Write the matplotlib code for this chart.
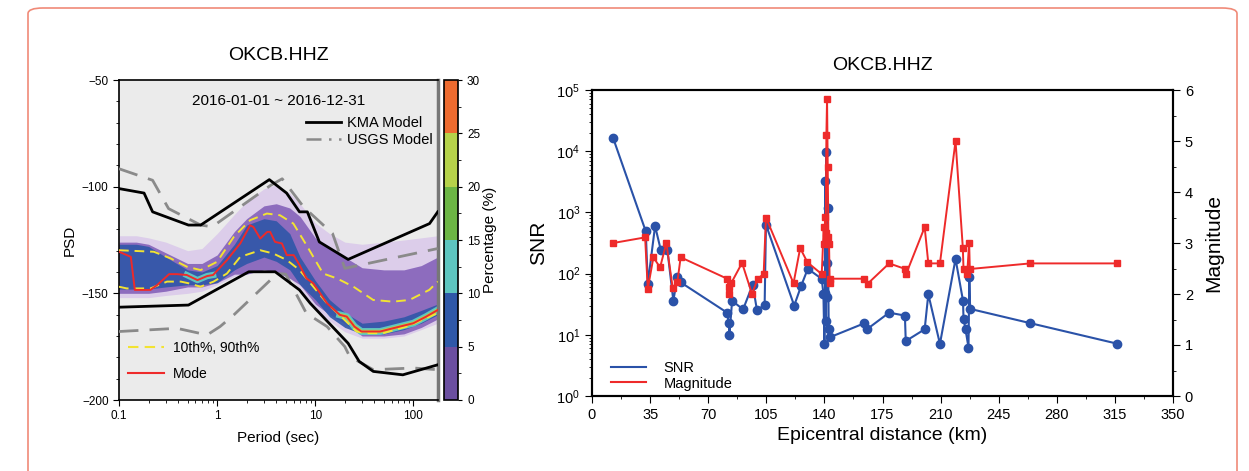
"""
Station OKCB.HHZ: PPSD summary (left) and SNR / magnitude vs distance (right).
"""
import matplotlib
matplotlib.use("Agg")
import matplotlib.pyplot as plt
from matplotlib.colors import ListedColormap, BoundaryNorm
from matplotlib.cm import ScalarMappable
from matplotlib.lines import Line2D
from matplotlib.patches import FancyBboxPatch
from matplotlib.ticker import MultipleLocator, LogLocator, NullFormatter, FixedLocator

plt.rcParams["font.family"] = ["Liberation Sans", "DejaVu Sans"]

# --- PSD panel data (period in s, PSD in dB) ------------------------------
kma_hi_period = [0.1, 0.18, 0.22, 0.51, 0.68, 3.4, 5.1, 6.9, 8.3, 11, 21.6, 146, 177]
kma_hi_psd = [-100.9, -103, -111.8, -118, -118, -96.7, -103, -111.8, -111.8, -125.9, -134.1, -117.3, -111.8]
kma_lo_period = [0.1, 0.51, 2.1, 3.9, 6.9, 8.9, 21.6, 28, 39, 78, 177]
kma_lo_psd = [-156.5, -155.5, -139.9, -139.9, -148.4, -154.7, -173.4, -181.9, -186.6, -188.2, -183.5]

usgs_hi_period = [0.1, 0.22, 0.32, 0.68, 0.89, 3.5, 4.6, 7.6, 15, 20, 177]
usgs_hi_psd = [-91.6, -97, -110.3, -118, -118.8, -99.4, -96.3, -109.5, -122, -138.3, -129]
usgs_lo_period = [0.1, 0.39, 0.79, 1.07, 1.48, 4.1, 5.0, 8.1, 13.2, 20, 22.4, 39, 100, 177]
usgs_lo_psd = [-167.9, -166.4, -169.5, -165.6, -160.1, -140.7, -141, -159.3, -165.6, -175, -179.6, -185.8, -185, -185.8]

mode_period = [0.1, 0.132, 0.145, 0.209, 0.245, 0.324, 0.389, 0.49, 0.63, 0.79, 0.91, 1.26, 1.72,
               2.17, 2.34, 2.75, 3.24, 3.47, 3.89, 4.57, 5.13, 6.03, 6.92, 8.13, 9.55, 13.2, 17.8,
               20.9, 25.1, 29.5, 45.7, 61.7, 100, 135, 177]
mode_psd = [-130.5, -132.9, -148.4, -148.4, -146.1, -141, -141, -141.4, -143.8, -141.9, -141.4,
            -134.4, -126.6, -118.1, -118.9, -124.3, -121.2, -121.2, -125.9, -126.6, -132.1, -132.1,
            -136.8, -143, -145.3, -154.7, -160.1, -160.9, -165.6, -167.9, -167.9, -166.4, -164,
            -160.9, -157.8]

p90_period = [0.1, 0.226, 0.335, 0.49, 0.68, 1.0, 1.48, 2.17, 3.21, 4.37, 5.98, 8.13, 12, 16.6,
              24.5, 38.9, 61.7, 91.2, 145, 177]
p90_psd = [-129.8, -130.5, -133.6, -137.5, -139.1, -135.2, -123.5, -115.7, -112.6, -113.4, -117.3,
           -127.4, -140.7, -143, -146.9, -153.1, -153.9, -153.1, -148.4, -144.5]
p10_period = [0.1, 0.12, 0.209, 0.309, 0.427, 0.513, 0.676, 0.92, 1.26, 1.72, 2.75, 3.72, 5.13,
              6.92, 9.55, 13.2, 19.1, 26.3, 33.1, 49, 85, 177]
p10_psd = [-146.9, -147.7, -147.7, -144.5, -144.5, -145.3, -146.9, -144.5, -140.7, -132.9, -129.8,
           -131.3, -134.4, -139.1, -146.9, -154.7, -161.7, -167.9, -168.7, -168.7, -165.6, -159.3]

# probability density envelopes
band_period = [0.1, 0.15, 0.2, 0.3, 0.5, 0.7, 1.0, 1.5, 2.0, 3.0, 4.0, 5.5, 7.0, 10, 14, 20, 30, 50, 80, 120, 177]
haze_hi = [-123, -123, -124, -126, -130, -129, -122, -113, -107, -101, -99, -103, -108, -117, -122, -126, -127, -126, -125, -124, -123]
haze_lo = [-152, -152, -152, -151, -150, -149, -146, -142, -140, -139, -139, -143, -148, -157, -163, -168, -171, -171, -170, -167, -164]
purple_hi = [-126, -126, -127, -131, -136, -136, -132, -121, -115, -109, -108, -110, -114, -124, -129, -133, -138, -139, -139, -137, -133]
purple_lo = [-150, -150, -150, -149, -147, -147, -145, -141, -141, -139, -140, -143, -146, -155, -160, -164, -170, -170, -169, -166, -162]
blue_hi = [-127, -127, -128, -133, -139, -140, -137, -127, -118, -115, -116, -122, -133, -144, -153, -159, -164, -163, -161, -158, -155]
blue_lo = [-148, -148, -148, -147, -146, -146, -145, -139, -136, -133, -135, -139, -146, -153, -161, -166, -169, -169, -167, -164, -160]

pct_bounds = [0, 5, 10, 15, 20, 25, 30]
pct_colors = ["#6b4fa0", "#2f58a8", "#5ec5c0", "#6cb544", "#b6d24a", "#ee6b2f"]

# --- SNR / magnitude panel data --------------------------------------------
snr_dist = [12.8, 32.4, 33.6, 38.0, 41.4, 45.4, 49.0, 51.4, 53.4, 81.4, 82.4, 82.8, 84.4, 91.0,
            96.8, 99.4, 104.0, 104.8, 121.8, 126.0, 130.0, 138.4, 139.4, 140.0, 140.4, 140.6,
            141.0, 141.2, 141.4, 141.6, 142.0, 142.6, 143.2, 164.0, 165.6, 179.0, 188.5, 189.0,
            200.4, 202.6, 209.6, 219.0, 223.5, 223.8, 225.0, 226.8, 227.3, 227.8, 264.0, 316.0]
snr_val = [16200, 490, 68, 600, 245, 245, 36, 87, 72, 23, 15.6, 10, 36, 26, 66, 25, 31, 630, 30,
           63, 120, 82, 47, 7.1, 49, 3300, 17, 9700, 148, 41, 1170, 12.3, 9.1, 15.4, 12.3, 23,
           20.6, 7.9, 12.3, 46, 7.1, 174, 36, 18.4, 12.3, 6.2, 87, 26.5, 15.5, 7.2]
mag_dist = [12.8, 32.0, 33.6, 37.0, 41.0, 44.8, 48.6, 51.4, 53.4, 81.4, 82.4, 82.6, 83.8, 90.4,
            96.4, 99.8, 103.4, 104.8, 121.4, 125.4, 129.8, 138.4, 139.6, 140.0, 140.4, 140.8,
            141.2, 141.6, 142.0, 142.4, 142.8, 143.2, 143.6, 164.0, 166.0, 179.0, 188.8, 189.2,
            200.4, 202.6, 209.6, 219.0, 223.4, 223.8, 226.0, 227.2, 227.6, 264.0, 316.0]
mag_val = [3.0, 3.11, 2.10, 2.72, 2.52, 3.0, 2.12, 2.23, 2.72, 2.30, 2.13, 2.0, 2.21, 2.61, 2.0,
           2.30, 2.39, 3.50, 2.21, 2.90, 2.62, 2.39, 3.31, 2.98, 3.51, 3.20, 5.11, 5.82, 4.50,
           3.11, 2.98, 2.21, 2.30, 2.30, 2.20, 2.60, 2.49, 2.39, 3.31, 2.60, 2.60, 5.0, 2.90,
           2.49, 2.39, 3.0, 2.49, 2.60, 2.60]

W, H = 1249, 471
fig = plt.figure(figsize=(W / 100, H / 100), dpi=100)


def px_axes(x0, y0, x1, y1):
    return fig.add_axes([x0 / W, 1 - y1 / H, (x1 - x0) / W, (y1 - y0) / H])


# outer rounded frame (bottom edge runs off the image)
fig.patches.append(FancyBboxPatch(
    (28 / W, -0.3), (1237 - 28) / W, 1.3 - 8 / H,
    boxstyle="round,pad=0,rounding_size=0.012", transform=fig.transFigure,
    facecolor="none", edgecolor="#f08a78", linewidth=1.2))

# ---------------------------------------------------------------- left panel
ax = px_axes(119, 80, 438, 400)
ax.set_facecolor("#ebebeb")
ax.fill_between(band_period, haze_lo, haze_hi, color="#dccdea", lw=0, zorder=1)
ax.fill_between(band_period, purple_lo, purple_hi, color="#8d6cbe", lw=0, zorder=1.1)
ax.fill_between(band_period, blue_lo, blue_hi, color="#2f56a8", lw=0, alpha=0.9, zorder=1.2)
ax.plot(mode_period[7:11], mode_psd[7:11], color="#5ec5c0", lw=4.5, zorder=1.5)
ax.plot(mode_period[26:], mode_psd[26:], color="#5ec5c0", lw=5, zorder=1.5)
ax.plot(mode_period[26:], mode_psd[26:], color="#b6d24a", lw=2.5, zorder=1.6)

ax.plot(usgs_hi_period, usgs_hi_psd, color="#8a8a8a", lw=2, dashes=(7, 4), zorder=3)
ax.plot(usgs_lo_period, usgs_lo_psd, color="#8a8a8a", lw=2, dashes=(7, 4), zorder=3)
ax.plot(kma_hi_period, kma_hi_psd, color="black", lw=2, zorder=4)
ax.plot(kma_lo_period, kma_lo_psd, color="black", lw=2, zorder=4)
ax.plot(p90_period, p90_psd, color="#f2e332", lw=1.4, dashes=(5, 3), zorder=5)
ax.plot(p10_period, p10_psd, color="#f2e332", lw=1.4, dashes=(5, 3), zorder=5)
ax.plot(mode_period, mode_psd, color="#ee2a2a", lw=1.4, zorder=6)

ax.set_xscale("log")
ax.set_xlim(0.1, 178)
ax.set_ylim(-200, -50)
ax.set_xticks([0.1, 1, 10, 100])
ax.set_xticklabels(["0.1", "1", "10", "100"])
ax.xaxis.set_minor_locator(LogLocator(base=10, subs=range(2, 10)))
ax.xaxis.set_minor_formatter(NullFormatter())
ax.set_yticks([-200, -150, -100, -50])
ax.yaxis.set_minor_locator(MultipleLocator(10))
ax.tick_params(which="both", direction="out", labelsize=8.5)
ax.tick_params(which="major", length=4)
ax.tick_params(which="minor", length=2)
for s in ax.spines.values():
    s.set_linewidth(1.2)
ax.spines["right"].set_color("#777777")
ax.spines["right"].set_linewidth(2.5)
ax.set_xlabel("Period (sec)", fontsize=11, labelpad=6)
ax.set_ylabel("PSD", fontsize=11, labelpad=4)
ax.text(0.5, 0.955, "2016-01-01 ~ 2016-12-31", transform=ax.transAxes,
        ha="center", va="top", fontsize=11)

leg1 = ax.legend(handles=[Line2D([], [], color="black", lw=2),
                          Line2D([], [], color="#8a8a8a", lw=1.8, dashes=(6, 3, 1, 3))],
                 labels=["KMA Model", "USGS Model"], loc="upper right",
                 bbox_to_anchor=(1.01, 0.915), frameon=False, fontsize=10.5,
                 handlelength=2.4, handletextpad=0.4, borderaxespad=0.2, labelspacing=0.2)
ax.add_artist(leg1)
ax.legend(handles=[Line2D([], [], color="#f2e332", lw=1.5, dashes=(5, 3)),
                   Line2D([], [], color="#ee2a2a", lw=1.5)],
          labels=["10th%, 90th%", "Mode"], loc="lower left",
          bbox_to_anchor=(-0.01, 0.02), frameon=False, fontsize=10,
          handlelength=2.6, handletextpad=0.6, labelspacing=0.9)

cax = px_axes(444, 80, 458, 400)
cmap = ListedColormap(pct_colors)
norm = BoundaryNorm(pct_bounds, cmap.N)
cb = fig.colorbar(ScalarMappable(norm=norm, cmap=cmap), cax=cax, ticks=pct_bounds)
cb.ax.tick_params(labelsize=8.5, direction="out", length=3)
cb.ax.yaxis.set_minor_locator(FixedLocator([2.5, 7.5, 12.5, 17.5, 22.5, 27.5]))
cb.ax.tick_params(which="minor", length=2)
cb.outline.set_linewidth(1.2)
cb.set_label("Percentage (%)", fontsize=11, labelpad=2)

fig.text(278 / W, 1 - 55 / H, "OKCB.HHZ", ha="center", va="center", fontsize=14)

# --------------------------------------------------------------- right panel
ax1 = px_axes(592, 90, 1173, 396)
ax1.plot(snr_dist, snr_val, color="#2a52a8", lw=1.5, marker="o", ms=6, zorder=3)
ax1.set_yscale("log")
ax1.set_ylim(1, 1e5)
ax1.set_xlim(0, 350)
ax1.set_xticks(range(0, 351, 35))
ax1.xaxis.set_minor_locator(MultipleLocator(17.5))
ax1.yaxis.set_minor_locator(LogLocator(base=10, subs=range(2, 10)))
ax1.yaxis.set_minor_formatter(NullFormatter())
ax1.tick_params(which="both", direction="out", labelsize=10.5)
ax1.tick_params(which="major", length=5)
ax1.tick_params(which="minor", length=2.5)
ax1.set_xlabel("Epicentral distance (km)", fontsize=14, labelpad=4)
ax1.set_ylabel("SNR", fontsize=15, labelpad=6)

ax2 = ax1.twinx()
ax2.plot(mag_dist, mag_val, color="#ee2a2a", lw=1.4, marker="s", ms=4.5, zorder=3)
ax2.set_ylim(0, 6)
ax2.set_yticks(range(0, 7))
ax2.yaxis.set_minor_locator(MultipleLocator(0.5))
ax2.tick_params(which="both", direction="out", labelsize=10.5)
ax2.tick_params(which="major", length=5)
ax2.tick_params(which="minor", length=2.5)
ax2.set_ylabel("Magnitude", fontsize=15, labelpad=8)
for a in (ax1, ax2):
    for s in a.spines.values():
        s.set_linewidth(1.5)

ax2.legend(handles=[Line2D([], [], color="#2a52a8", lw=1.5),
                    Line2D([], [], color="#ee2a2a", lw=1.5)],
           labels=["SNR", "Magnitude"], loc="lower left",
           bbox_to_anchor=(0.01, -0.025), frameon=False, fontsize=10.5,
           handlelength=2.4, handletextpad=1.2, labelspacing=0.1)

fig.text(882 / W, 1 - 65 / H, "OKCB.HHZ", ha="center", va="center", fontsize=14)

fig.savefig("out.png", dpi=100)
